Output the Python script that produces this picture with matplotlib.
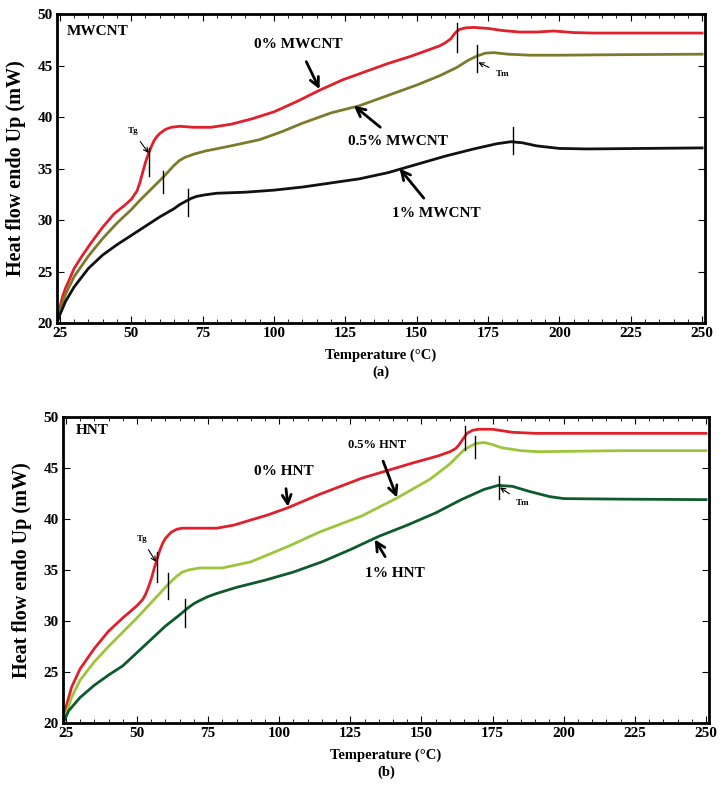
import matplotlib
matplotlib.use("Agg")
import matplotlib.pyplot as plt

# ---- panel (a) MWCNT ----
t_red_a = [24, 25, 26, 27, 28, 30, 33, 36, 40, 44, 48, 50, 52, 53, 54, 55, 56, 57, 58, 59, 60, 62, 64, 67, 72, 78,
           85, 92, 100, 108, 116, 124, 131, 140, 148, 155, 158, 160, 162, 163, 164, 165, 167, 170, 175, 180, 186,
           192, 198, 205, 212, 230, 250]
y_red_a = [20, 21.5, 22.6, 23.4, 24.0, 25.3, 26.6, 27.8, 29.3, 30.6, 31.5, 32.0, 32.8, 33.6, 34.6, 35.6, 36.4, 37.1,
           37.7, 38.1, 38.4, 38.8, 39.0, 39.1, 39.0, 39.0, 39.3, 39.8, 40.5, 41.5, 42.6, 43.6, 44.3, 45.2, 45.9,
           46.6, 46.9, 47.2, 47.6, 48.0, 48.3, 48.5, 48.65, 48.7, 48.6, 48.4, 48.25, 48.25, 48.35, 48.2, 48.15,
           48.15, 48.15]
t_olive_a = [24, 25, 27, 30, 35, 40, 45, 50, 53, 57, 61, 63, 65, 67, 69, 72, 76, 85, 95, 103, 110, 120, 130, 140, 150,
             158, 164, 168, 171, 174, 177, 182, 190, 200, 220, 250]
y_olive_a = [20, 21.1, 22.8, 24.5, 26.5, 28.2, 29.7, 31.0, 31.9, 33.0, 34.1, 34.7, 35.3, 35.8, 36.1, 36.4, 36.7, 37.2,
             37.8, 38.6, 39.4, 40.4, 41.1, 42.1, 43.1, 44.0, 44.8, 45.5, 45.9, 46.2, 46.25, 46.1, 46.0, 46.0, 46.05,
             46.1]
t_black_a = [24, 25, 27, 30, 35, 40, 45, 50, 55, 60, 65, 67, 69, 71, 73, 76, 80, 90, 100, 110, 120, 130, 140, 150,
             160, 170, 178, 183, 187, 192, 200, 210, 250]
y_black_a = [20, 20.8, 22.1, 23.5, 25.3, 26.6, 27.6, 28.5, 29.4, 30.3, 31.1, 31.5, 31.8, 32.1, 32.3, 32.45, 32.6,
             32.7, 32.9, 33.2, 33.6, 34.0, 34.6, 35.4, 36.2, 36.9, 37.4, 37.6, 37.5, 37.2, 36.95, 36.9, 37.0]
# transition markers (T, y_low, y_high)
marks_a = [(56.2, 34.3, 37.0), (61.2, 32.6, 34.8), (69.8, 30.4, 33.0),
           (164.2, 46.3, 49.1), (171.3, 44.4, 47.0), (183.9, 36.4, 39.0)]

# ---- panel (b) HNT ----
t_red_b = [24, 25, 27, 30, 35, 40, 45, 50, 52, 53, 54, 55, 56, 57, 58, 59, 60, 62, 64, 66, 72, 78, 84, 90, 96, 103,
           114, 129, 147, 156, 160, 162, 163, 164, 165, 166, 168, 170, 175, 182, 190, 210, 250]
y_red_b = [20, 21.5, 23.5, 25.3, 27.3, 29.0, 30.3, 31.5, 32.1, 32.6, 33.3, 34.1, 35.1, 36.0, 36.9, 37.6, 38.1, 38.7,
           39.0, 39.1, 39.1, 39.1, 39.4, 39.9, 40.4, 41.1, 42.4, 44.0, 45.5, 46.2, 46.6, 46.9, 47.2, 47.6, 48.0,
           48.4, 48.7, 48.8, 48.8, 48.5, 48.4, 48.4, 48.4]
t_lg_b = [24, 25, 27, 30, 35, 40, 45, 50, 55, 58, 61, 64, 66, 68, 72, 80, 90, 103, 114, 129, 141, 153, 160, 165, 169,
          172, 175, 178, 185, 191, 220, 250]
y_lg_b = [20, 20.8, 22.5, 24.2, 26.0, 27.5, 28.9, 30.3, 31.8, 32.7, 33.6, 34.4, 34.8, 35.0, 35.2, 35.2, 35.8, 37.3,
          38.7, 40.3, 42.0, 43.9, 45.4, 46.8, 47.4, 47.5, 47.3, 47.0, 46.7, 46.6, 46.7, 46.7]
t_dg_b = [24, 26, 30, 35, 40, 45, 50, 55, 60, 65, 68, 70, 72, 75, 78, 85, 95, 105, 115, 125, 135, 145, 155, 164, 172,
          177, 182, 188, 195, 200, 220, 250]
y_dg_b = [20, 21.2, 22.5, 23.7, 24.7, 25.6, 26.9, 28.2, 29.5, 30.6, 31.3, 31.7, 32.0, 32.4, 32.7, 33.3, 34.0, 34.8,
          35.8, 37.0, 38.3, 39.4, 40.6, 41.9, 42.9, 43.3, 43.2, 42.7, 42.2, 42.0, 41.95, 41.9]
marks_b = [(56.9, 33.8, 36.8), (60.8, 32.2, 34.7), (66.9, 29.4, 32.2),
           (165.3, 46.8, 49.1), (168.8, 46.0, 48.1), (177.2, 42.0, 44.2)]

xticks = [25, 50, 75, 100, 125, 150, 175, 200, 225, 250]
yticks = [20, 25, 30, 35, 40, 45, 50]

FONT = "Liberation Serif"
plt.rcParams["font.family"] = FONT
plt.rcParams["font.weight"] = "bold"

fig = plt.figure(figsize=(7.24, 7.96), dpi=100)
ax1 = fig.add_axes([0.0787, 0.5942, 0.895, 0.3882])
ax2 = fig.add_axes([0.087, 0.0917, 0.892, 0.3844])


def style(ax, label):
    ax.set_xlim(24, 251)
    ax.set_ylim(20, 50)
    ax.set_xticks(xticks)
    ax.set_xticks(range(25, 251, 5), minor=True)
    ax.set_yticks(yticks)
    ax.tick_params(which="both", direction="in", top=True, right=True, labelsize=11, pad=3)
    ax.tick_params(which="major", length=5, width=0.8)
    ax.tick_params(which="minor", length=3, width=0.6)
    for sp in ax.spines.values():
        sp.set_linewidth(2)
    ax.set_xlabel("Temperature (°C)\n" + label, fontsize=10.5, fontweight="bold", labelpad=6, linespacing=1.3)
    ax.set_ylabel("Heat flow endo Up (mW)", fontsize=14.5, fontweight="bold", labelpad=8)


def marks(ax, mk):
    for t, lo, hi in mk:
        ax.plot([t, t], [lo, hi], color="black", lw=1)


def big_arrow(ax, text, xy, xytext, fs=11):
    ax.annotate(text, xy=xy, xytext=xytext, ha="center", va="center", fontsize=fs, fontweight="bold",
                arrowprops=dict(arrowstyle="->", lw=2, color="black", mutation_scale=16, shrinkA=6, shrinkB=0))


def small_arrow(ax, text, xy, xytext):
    ax.annotate(text, xy=xy, xytext=xytext, ha="center", va="center", fontsize=6.5, fontweight="bold",
                arrowprops=dict(arrowstyle="->", lw=0.8, color="black", mutation_scale=8, shrinkA=3, shrinkB=0))


# panel (a)
ax1.plot(t_red_a, y_red_a, color="#e0202b", lw=2)
ax1.plot(t_olive_a, y_olive_a, color="#7e7a2c", lw=2)
ax1.plot(t_black_a, y_black_a, color="#111111", lw=2)
marks(ax1, marks_a)
ax1.text(27.5, 48.3, "MWCNT", fontsize=11, fontweight="bold", va="center")
big_arrow(ax1, "0% MWCNT", (116, 42.7), (108.5, 47.0))
big_arrow(ax1, "0.5% MWCNT", (128, 41.1), (143.5, 37.6))
big_arrow(ax1, "1% MWCNT", (144, 35.0), (157, 30.6))
small_arrow(ax1, "Tg", (56.1, 36.5), (50.6, 38.6))
small_arrow(ax1, "Tm", (171.6, 45.3), (180, 44.2))
style(ax1, "(a)")

# panel (b)
ax2.plot(t_red_b, y_red_b, color="#e0202b", lw=2)
ax2.plot(t_lg_b, y_lg_b, color="#9cc53c", lw=2)
ax2.plot(t_dg_b, y_dg_b, color="#0e5a2c", lw=2)
marks(ax2, marks_b)
ax2.text(28.5, 48.7, "HNT", fontsize=11, fontweight="bold", va="center")
big_arrow(ax2, "0% HNT", (103.1, 41.2), (101.7, 44.7))
big_arrow(ax2, "0.5% HNT", (141.4, 42.1), (134.3, 47.3), fs=9)
big_arrow(ax2, "1% HNT", (133.6, 38.0), (140.7, 34.7))
small_arrow(ax2, "Tg", (56.7, 35.8), (51.8, 38.0))
small_arrow(ax2, "Tm", (177.6, 43.1), (185.5, 41.6))
style(ax2, "(b)")

fig.savefig("out.png", dpi=100)
